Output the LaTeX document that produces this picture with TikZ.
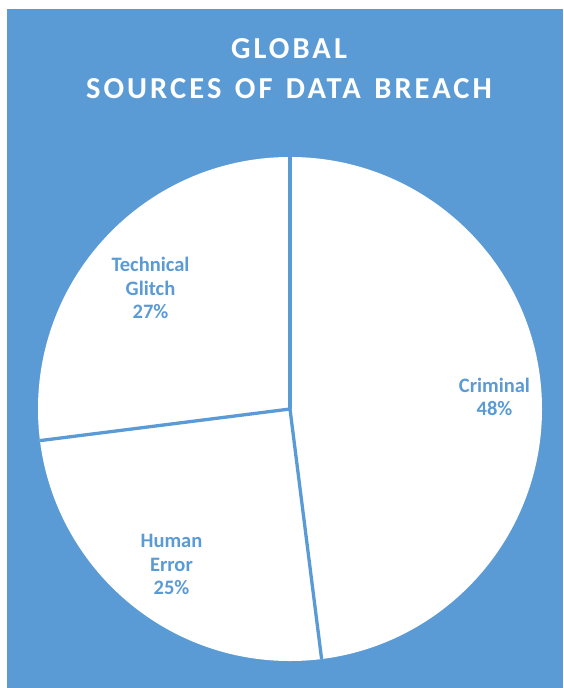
\documentclass[tikz,border=0pt]{standalone}
\usepackage{fontspec}
\setmainfont{Carlito}
\newfontfamily\titlefont[LetterSpace=10,WordSpace=1.35]{Carlito}
\definecolor{bgblue}{HTML}{5B9BD5}
\begin{document}
\begin{tikzpicture}[x=1pt,y=-1pt,
  sep/.style={draw=bgblue,line width=3.3pt},
  lbl/.style={text=bgblue,font=\bfseries\fontsize{20.5}{23.5}\selectfont,align=center,inner sep=0pt},
  ttl/.style={text=white,font=\titlefont\bfseries\fontsize{30.5}{40}\selectfont,align=center,inner sep=0pt}]
\useasboundingbox (0,0) rectangle (563,688);
\fill[bgblue] (7,9) rectangle (563,688);
\coordinate (c) at (290,409);
\fill[white] (c) circle[radius=252pt];
\coordinate (p1) at (290,157);
\coordinate (p2) at (321.6,659);
\coordinate (p3) at (40,440.6);
\draw[sep] (c) -- (p1);
\draw[sep] (c) -- (p2);
\draw[sep] (c) -- (p3);
\node[ttl] (title) at (289,69) {GLOBAL\\SOURCES OF DATA BREACH};
\node[lbl] (tg) at (150.5,288) {Technical\\Glitch\\27\%};
\node[lbl] (cr) at (494.5,397) {Criminal\\48\%};
\node[lbl] (he) at (171.5,564.5) {Human\\Error\\25\%};
\end{tikzpicture}
\end{document}
